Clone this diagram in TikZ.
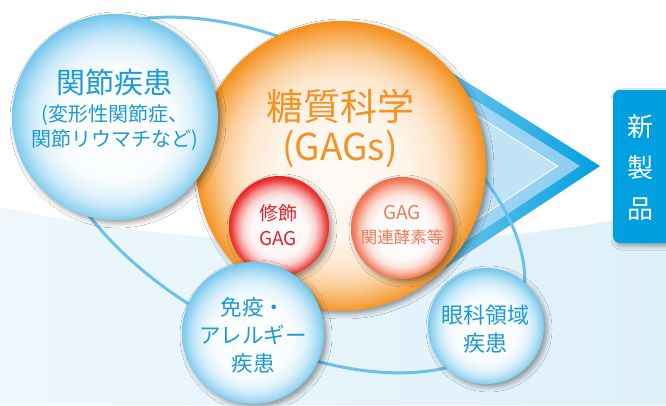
\documentclass[tikz,border=0pt]{standalone}
\usepackage{fontspec}
\setmainfont{Noto Sans CJK JP}
\usepackage{tikz}
\usetikzlibrary{shadows.blur}
\usepackage{xcolor}
\definecolor{gsblue}{RGB}{0,160,224}
\definecolor{gsline}{RGB}{108,194,234}
\definecolor{gstext}{RGB}{26,154,214}
\definecolor{gsorange}{RGB}{243,147,37}
\definecolor{gsred}{RGB}{230,33,42}
\definecolor{gssalmon}{RGB}{238,123,85}
\definecolor{gsbgleft}{RGB}{238,247,253}
\definecolor{gsbgright}{RGB}{222,240,250}
\definecolor{arrowlight}{RGB}{140,205,240}
\definecolor{arrowmid}{RGB}{178,221,244}
\definecolor{arrowinner}{RGB}{192,227,246}
\definecolor{sphblue}{RGB}{112,197,237}
\definecolor{sphorange}{RGB}{245,146,32}
\definecolor{sphred}{RGB}{232,40,36}
\definecolor{sphsalmon}{RGB}{240,112,78}
% the circle edge sits at 25bp
\pgfdeclareradialshading{blueball}{\pgfpoint{0bp}{-3bp}}{color(0bp)=(white); color(14bp)=(white!95!sphblue); color(18bp)=(white!80!sphblue); color(21bp)=(white!58!sphblue); color(23.5bp)=(white!28!sphblue); color(25.5bp)=(sphblue); color(30bp)=(sphblue)}
\pgfdeclareradialshading{orangeball}{\pgfpoint{0bp}{-2bp}}{color(0bp)=(white!96!sphorange); color(11bp)=(white!91!sphorange); color(16.5bp)=(white!78!sphorange); color(20bp)=(white!56!sphorange); color(23bp)=(white!24!sphorange); color(25bp)=(sphorange); color(30bp)=(sphorange)}
\pgfdeclareradialshading{redball}{\pgfpoint{0bp}{-3bp}}{color(0bp)=(white); color(14bp)=(white!96!sphred); color(18bp)=(white!80!sphred); color(21bp)=(white!50!sphred); color(23.5bp)=(white!15!sphred); color(25bp)=(sphred); color(30bp)=(sphred)}
\pgfdeclareradialshading{salmonball}{\pgfpoint{0bp}{-3bp}}{color(0bp)=(white); color(14bp)=(white!96!sphsalmon); color(18bp)=(white!80!sphsalmon); color(21bp)=(white!50!sphsalmon); color(23.5bp)=(white!15!sphsalmon); color(25bp)=(sphsalmon); color(30bp)=(sphsalmon)}
\tikzstyle{sphere} = [circle, inner sep=0pt, shade, blur shadow={shadow xshift=3pt, shadow yshift=-3pt, shadow blur radius=5pt, shadow opacity=40}]
\tikzstyle{bluesphere} = [sphere, shading=blueball]
\tikzstyle{orangesphere} = [sphere, shading=orangeball]
\tikzstyle{redsphere} = [sphere, shading=redball]
\tikzstyle{salmonsphere} = [sphere, shading=salmonball]
\tikzstyle{bluelabel} = [text=gstext, align=center, inner sep=0pt]

\begin{document}
\begin{tikzpicture}[x=1pt, y=1pt]
    \useasboundingbox (0,0) rectangle (666,405);
    % Background
    \fill[white] (0,0) rectangle (666,405);
    \shade[left color=gsbgleft, right color=gsbgright] (0,198) .. controls (200,155) and (450,147) .. (666,195) -- (666,0) -- (0,0) -- cycle;

    % Arrow
    \shade[left color=arrowlight, right color=gsblue] (400,365) -- (600,239) -- (415,117) -- cycle;
    \shade[left color=arrowmid, right color=arrowlight] (400,352) -- (580,239) -- (415,130) -- cycle;
    \filldraw[fill=arrowinner, draw=white, line width=0.8pt] (400,338) -- (557.6,239) -- (415,144.5) -- cycle;

    % Orbit
    \draw[gsline, line width=3pt, rotate around={-28.8:(285,210)}] (285,210) ellipse [x radius=262, y radius=143];

    % Spheres
    \node[orangesphere, minimum size=290pt] (glyco) at (341,239) {};
    \node[redsphere, minimum size=100pt] (modgag) at (279,179) {};
    \node[salmonsphere, minimum size=102pt] (enzyme) at (402,177) {};
    \node[bluesphere, minimum size=206pt] (joint) at (115,288) {};
    \node[bluesphere, minimum size=142pt] (allergy) at (253,72) {};
    \node[bluesphere, minimum size=116pt] (eye) at (486,79) {};

    % New products
    \node[rectangle, rounded corners=7pt, fill=gsblue, minimum width=70pt, minimum height=153pt, blur shadow={shadow xshift=2pt, shadow yshift=-3pt, shadow blur radius=4pt, shadow opacity=35}] (product) at (648,238.5) {};
    \node[text=white, align=center, font=\fontsize{26}{41}\selectfont] (producttext) at (640.5,237) {新\\製\\品};

    % Labels
    \node[bluelabel, font=\fontsize{29}{34}\selectfont] (jointtitle) at (114,323) {関節疾患};
    \node[bluelabel, font=\fontsize{20}{25}\selectfont] (jointsub) at (115,277.5) {(変形性関節症、\\関節リウマチなど)};
    \node[text=gsorange, align=center, font=\fontsize{37}{40}\selectfont] (glycotext) at (340,277) {糖質科学\\(GAGs)};
    \node[text=gsred, align=center, font=\fontsize{19}{25}\selectfont] (modgagtext) at (278,179.5) {修飾\\GAG};
    \node[text=gssalmon, align=center, font=\fontsize{16.5}{24}\selectfont] (enzymetext) at (402,180) {{\fontsize{19}{24}\selectfont GAG}\\関連酵素等};
    \node[bluelabel, font=\fontsize{21.5}{28}\selectfont] (allergytext) at (253,70) {免疫・\\アレルギー\\疾患};
    \node[bluelabel, font=\fontsize{22}{28}\selectfont] (eyetext) at (485.5,76) {眼科領域\\疾患};
\end{tikzpicture}
\end{document}
